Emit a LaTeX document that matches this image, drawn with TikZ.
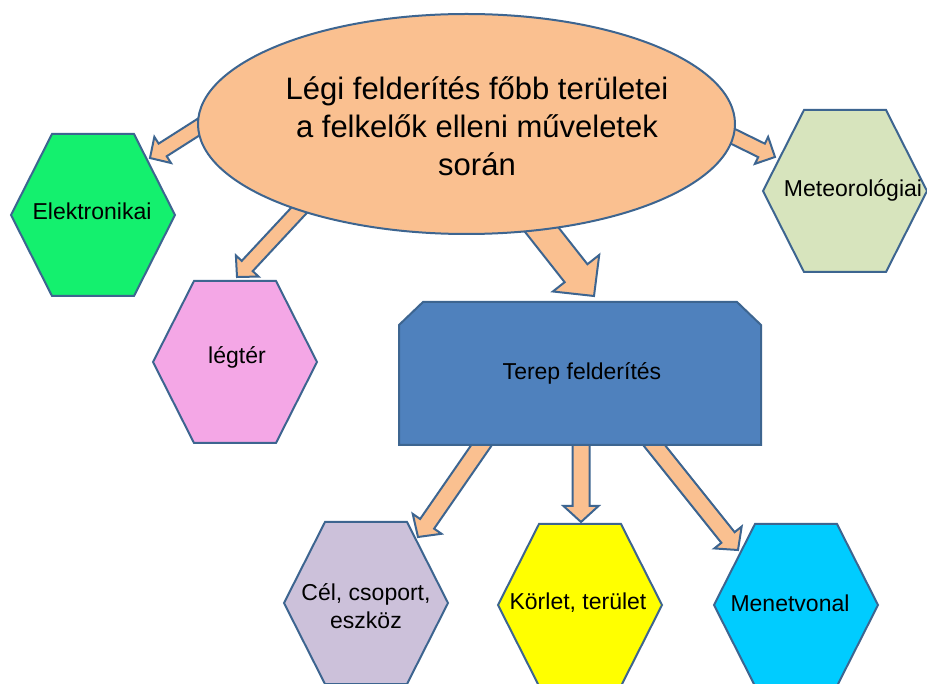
\documentclass[tikz,border=0pt]{standalone}
\usepackage{fontspec}
\setmainfont{Liberation Sans}
\usetikzlibrary{calc,shapes.geometric}
\pgfdeclarelayer{back}
\pgfdeclarelayer{mid}
\pgfsetlayers{back,mid,main}
\definecolor{edgeblue}{HTML}{3D6590}
\definecolor{peach}{HTML}{FAC090}
\definecolor{elgreen}{HTML}{14F06E}
\definecolor{lpink}{HTML}{F4A7E6}
\definecolor{meteo}{HTML}{D7E4BD}
\definecolor{terepblue}{HTML}{4F81BD}
\definecolor{lilac}{HTML}{CCC1DA}
\definecolor{yel}{HTML}{FFFF00}
\definecolor{cyanb}{HTML}{00CCFF}
\tikzset{
  hexline/.style={draw=edgeblue, line width=2pt, line join=miter},
  lbl/.style={font=\fontsize{23}{28}\selectfont, align=center, inner sep=0pt},
  titletext/.style={font=\fontsize{31}{38}\selectfont, align=center, inner sep=0pt},
  blockarrow/.style n args={3}{draw=edgeblue, fill=peach, line width=2pt, line join=miter,
    to path={let \p1=(\tikztostart), \p2=(\tikztotarget),
      \n1={atan2(\y2-\y1,\x2-\x1)}, \n2={veclen(\x2-\x1,\y2-\y1)} in
      ([shift={(\p1)},rotate=\n1]0pt,-#1pt)
      -- ([shift={(\p1)},rotate=\n1]\n2-#3pt,-#1pt)
      -- ([shift={(\p1)},rotate=\n1]\n2-#3pt,-#2pt)
      -- (\p2)
      -- ([shift={(\p1)},rotate=\n1]\n2-#3pt,#2pt)
      -- ([shift={(\p1)},rotate=\n1]\n2-#3pt,#1pt)
      -- ([shift={(\p1)},rotate=\n1]0pt,#1pt) -- cycle}}
}
\newcommand{\drawhexagon}[2]{%
  \begin{pgfonlayer}{back}
  \filldraw[hexline, fill=#2] (#1) +(-82,0) -- +(-41,-81) -- +(41,-81) -- +(82,0) -- +(41,81) -- +(-41,81) -- cycle;
  \end{pgfonlayer}}
\begin{document}
\begin{tikzpicture}[x=1pt, y=-1pt]
\begin{pgfonlayer}{back}
\fill[white] (0,0) rectangle (927,684);
\end{pgfonlayer}
\useasboundingbox (0,0) rectangle (927,684);

% hexagons
\drawhexagon{93,215}{elgreen}
\drawhexagon{235,362}{lpink}
\drawhexagon{845,191}{meteo}
\drawhexagon{366,603}{lilac}
\drawhexagon{580,605}{yel}
\drawhexagon{796,605}{cyanb}

% main ellipse
\node[ellipse, draw=edgeblue, fill=peach, line width=2pt, minimum width=537, minimum height=220, inner sep=0pt] (top) at (466.5,124) {};
\node[titletext] (title) at (477,126) {Légi felderítés főbb területei\\a felkelők elleni műveletek\\során};

% terep box
\filldraw[draw=edgeblue, fill=terepblue, line width=2pt, line join=miter]
  (399,325) -- (423,302) -- (737,302) -- (761,325) -- (761,445) -- (399,445) -- cycle;
\node[lbl] (terep) at (582,373) {Terep felderítés};

% labels
\node[lbl] (el) at (92,211) {Elektronikai};
\node[lbl] (lt) at (237,357) {légtér};
\node[lbl] (me) at (853,190) {Meteorológiai};
\node[lbl] (ce) at (366,606) {Cél, csoport,\\eszköz};
\node[lbl] (ko) at (578,603) {Körlet, terület};
\node[lbl] (mn) at (790,603) {Menetvonal};

% arrow ends
\coordinate (s1) at (216,116);  \coordinate (t1) at (150,158);
\coordinate (s2) at (304,205);  \coordinate (t2) at (237,277);
\coordinate (s3) at (527,211);  \coordinate (t3) at (594,296);
\coordinate (s4) at (722,131);  \coordinate (t4) at (775,157);
\coordinate (s5) at (492,430);  \coordinate (t5) at (418,537);
\coordinate (s6) at (581,430);  \coordinate (t6) at (581,522);
\coordinate (s7) at (642,430);  \coordinate (t7) at (738,550);

\begin{pgfonlayer}{mid}
\draw[blockarrow={7.5}{15.5}{15}] (s1) to (t1);
\draw[blockarrow={7.5}{15.5}{15}] (s2) to (t2);
\draw[blockarrow={14.5}{29.5}{29}] (s3) to (t3);
\draw[blockarrow={7.5}{15}{15}] (s4) to (t4);
\draw[blockarrow={8.5}{17.5}{16}] (s5) to (t5);
\draw[blockarrow={8.5}{17.5}{16}] (s6) to (t6);
\draw[blockarrow={8.5}{17.5}{16}] (s7) to (t7);
\end{pgfonlayer}
\end{tikzpicture}
\end{document}
